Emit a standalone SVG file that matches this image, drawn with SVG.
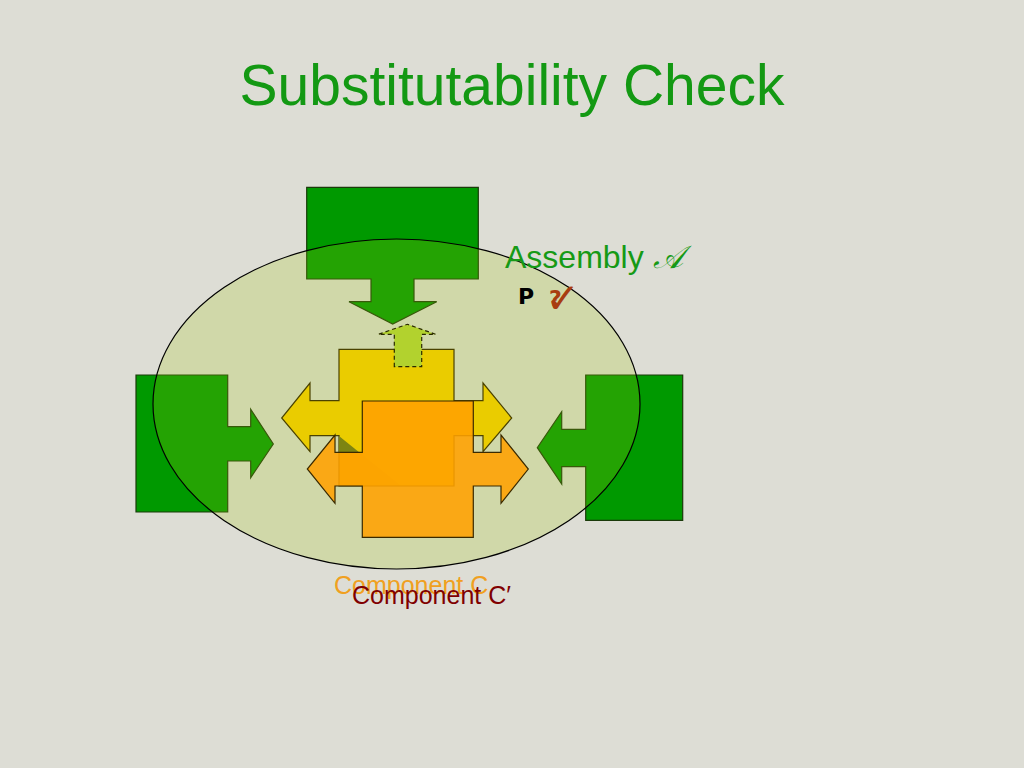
<svg xmlns="http://www.w3.org/2000/svg" width="1024" height="768" viewBox="0 0 1024 768">
<style>
.green{fill:#009900;stroke:#1a3a0a;stroke-width:1.2}
.yel{fill:#eacc00;stroke:#4a4200;stroke-width:1.2}
.org{fill:#ffa000;fill-opacity:0.88;stroke:#3a2a00;stroke-width:1.2}
.t{font-family:"Liberation Sans",Arial,sans-serif}
</style>
<rect width="1024" height="768" fill="#ddddd5"/>
<text class="t" x="512" y="105" font-size="57" fill="#139913" text-anchor="middle">Substitutability Check</text>
<g id="green-top"><path class="green" d="M306.7,187.3 H478.3 V279 H414 V301.7 H436.7 L392.7,324 L349,301.7 H371 V279 H306.7 Z"/></g>
<g id="green-left"><path class="green" d="M136,375 H227.7 V426.7 H250.7 V409.3 L273.3,444 L250.7,477.7 V461 H227.7 V512 H136 Z"/></g>
<g id="green-right"><path class="green" d="M682.7,375 H585.7 V429.3 H561.7 V411.7 L537.3,447.7 L561.7,484 V466.7 H585.7 V520.3 H682.7 Z"/></g>
<g id="assembly"><ellipse cx="396.5" cy="404" rx="243.5" ry="165" fill="#a5ca0c" fill-opacity="0.22" stroke="#000" stroke-width="1.2"/></g>
<g id="component-c"><path class="yel" d="M339,349.3 H454 V400.7 H483 V383 L511.7,418 L483,451.7 V435.7 H454 V486 H339 V435.7 H310 V451.7 L281.7,418 L310,383 V400.7 H339 Z"/></g>
<g id="shadow">
<path d="M339,436 L358.8,452 H339 Z" fill="#7d8412"/>
<path d="M339,452 H358.8 L401,486 H339 Z" fill="#a05000" fill-opacity="0.14"/>
</g>
<g id="component-c-prime"><path class="org" d="M362.3,401 H473.3 V452.3 H501 V435 L528.3,469 L501,503.3 V486 H473.3 V537.3 H362.3 V486 H335 V503.3 L307.3,469 L335,435 V452.3 H362.3 Z"/></g>
<g id="connectors"><path d="M394.3,366.7 V334.3 H378.3 L407.3,324.3 L435.7,334.3 H421.7 V366.7 Z" fill="#b2d22e" stroke="#2a2a00" stroke-width="1.2" stroke-dasharray="4,3"/></g>
<text class="t" x="505" y="268" font-size="32" fill="#169a16">Assembly <tspan font-family="'DejaVu Serif','Liberation Serif',serif" font-style="italic">𝒜</tspan></text>
<text x="518" y="304" font-size="22" font-weight="bold" font-family="'DejaVu Sans',Verdana,sans-serif" fill="#000">P</text>
<text x="549" y="306" font-size="22" font-weight="bold" font-family="'DejaVu Sans',sans-serif" fill="#a83c10">?</text>
<text x="545" y="313" font-size="42" font-family="'DejaVu Sans',sans-serif" fill="#a83c10">✓</text>
<text class="t" x="334" y="594" font-size="25" fill="#f0a020">Component C</text>
<text class="t" x="352" y="604" font-size="25" fill="#800000">Component C′</text>
</svg>
